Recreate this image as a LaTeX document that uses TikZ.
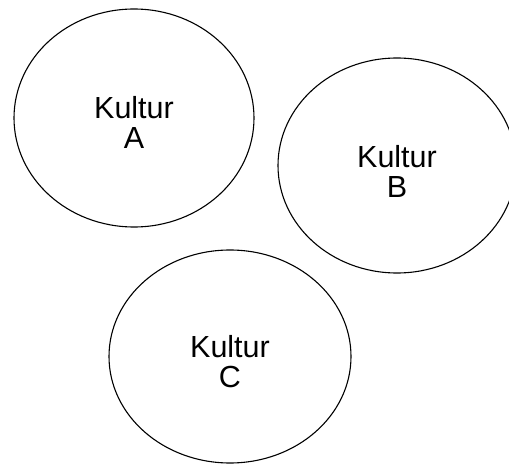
\documentclass[tikz,border=0pt]{standalone}
\usepackage{fontspec}
\setmainfont{Liberation Sans}
\usetikzlibrary{shapes.geometric}
\begin{document}
\begin{tikzpicture}[x=1pt,y=1pt,
  culture/.style={ellipse, draw=black, line width=1.1pt, inner sep=0pt},
  label/.style={align=center, inner sep=0pt, font=\fontsize{30.5}{30}\selectfont}]
\useasboundingbox (0,0) rectangle (509,-465);
\node[culture, minimum width=240pt, minimum height=218pt] (A) at (134,-118) {};
\node[culture, minimum width=238pt, minimum height=215pt] (B) at (397,-165.5) {};
\node[culture, minimum width=242pt, minimum height=213pt] (C) at (230,-356.5) {};
\node[label] (tA) at ([yshift=-4.5pt]A.center) {Kultur\\A};
\node[label] (tB) at ([yshift=-5.5pt]B.center) {Kultur\\B};
\node[label] (tC) at ([yshift=-5pt]C.center) {Kultur\\C};
\end{tikzpicture}
\end{document}
